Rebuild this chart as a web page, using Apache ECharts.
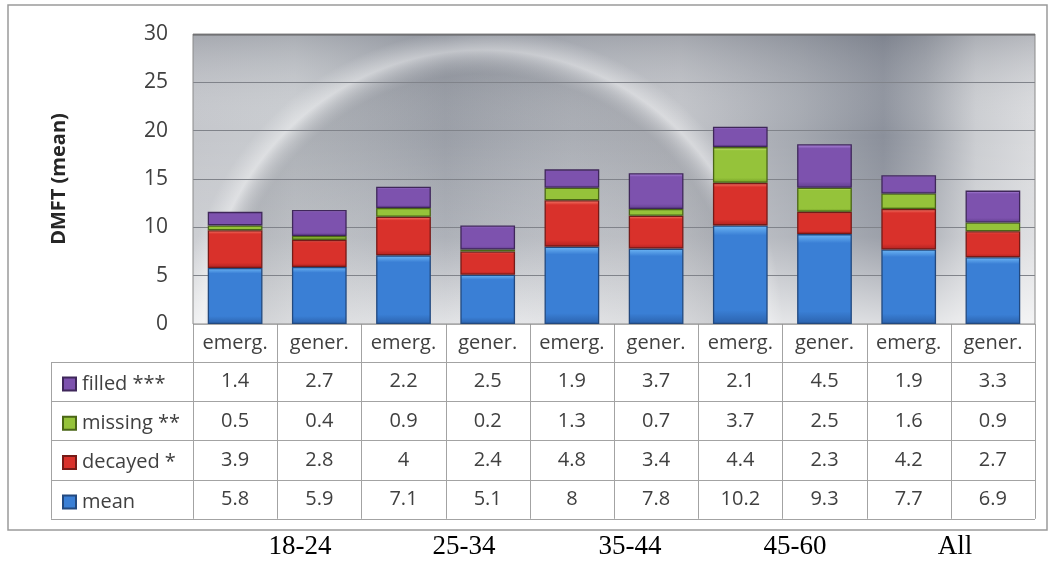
<!DOCTYPE html>
<html>
<head>
<meta charset="utf-8">
<title>DMFT by age group</title>
<script src="https://cdn.jsdelivr.net/npm/echarts@6/dist/echarts.min.js"></script>
<style>
  html, body { margin: 0; padding: 0; background: #ffffff; }
  #chart { width: 1049px; height: 565px; }
</style>
</head>
<body>
<div id="chart"></div>
<script>
// Age groups, each split into emergency and general patients
const ageGroups = ['18-24', '25-34', '35-44', '45-60', 'All'];
const columns = ['emerg.', 'gener.', 'emerg.', 'gener.', 'emerg.', 'gener.', 'emerg.', 'gener.', 'emerg.', 'gener.'];

// DMFT components (mean number of teeth)
const mean    = [5.8, 5.9, 7.1, 5.1, 8,   7.8, 10.2, 9.3, 7.7, 6.9];
const decayed = [3.9, 2.8, 4,   2.4, 4.8, 3.4, 4.4,  2.3, 4.2, 2.7];
const missing = [0.5, 0.4, 0.9, 0.2, 1.3, 0.7, 3.7,  2.5, 1.6, 0.9];
const filled  = [1.4, 2.7, 2.2, 2.5, 1.9, 3.7, 2.1,  4.5, 1.9, 3.3];

const seriesNames = ['mean', 'decayed *', 'missing **', 'filled ***'];
const yTicks = { min: 0, max: 30, interval: 5 };

const FONT = '"Open Sans", "Noto Sans", sans-serif';
const TEXT = '#404040';
const GRID_LINE = '#a3a3a3';

// unique keys for the category axis (labels are drawn in the table)
const colKeys = columns.map((c, i) => ageGroups[Math.floor(i / 2)] + ' ' + c);

function bevel(light, main, dark) {
  return {
    type: 'linear', x: 0, y: 0, x2: 0, y2: 1,
    colorStops: [
      { offset: 0, color: light },
      { offset: 0.10, color: main },
      { offset: 0.86, color: main },
      { offset: 1, color: dark }
    ]
  };
}

const palette = {
  'mean':       { fill: bevel('#6fb8f6', '#3a7fd5', '#2b62ad'), border: '#22497f' },
  'decayed *':  { fill: bevel('#f6806f', '#d9312b', '#b02222'), border: '#761a17' },
  'missing **': { fill: bevel('#d3f07e', '#95c33a', '#729d25'), border: '#4a6616' },
  'filled ***': { fill: bevel('#b690e3', '#7d52ae', '#613d8e'), border: '#3f275a' }
};

const values = { 'mean': mean, 'decayed *': decayed, 'missing **': missing, 'filled ***': filled };

const chart = echarts.init(document.getElementById('chart'), null, { renderer: 'canvas' });

chart.setOption({
  animation: false,
  textStyle: { fontFamily: FONT },
  grid: { left: 193, right: 14, top: 34, bottom: 241, containLabel: false },
  legend: {
    data: ['filled ***', 'missing **', 'decayed *', 'mean'],
    orient: 'vertical',
    left: 57,
    top: 369,
    itemWidth: 13,
    itemHeight: 13,
    itemGap: 19.3,
    icon: 'rect',
    selectedMode: false,
    textStyle: { fontFamily: FONT, fontSize: 20, color: TEXT, lineHeight: 20, padding: [0, 0, 0, 1] }
  },
  xAxis: {
    type: 'category',
    data: colKeys,
    axisLine: { show: false },
    axisTick: { show: false },
    axisLabel: { show: false },
    splitLine: { show: false }
  },
  yAxis: {
    type: 'value',
    min: yTicks.min,
    max: yTicks.max,
    interval: yTicks.interval,
    axisLine: { show: false },
    axisTick: { show: false },
    axisLabel: { fontFamily: FONT, fontSize: 21, color: TEXT, margin: 25 },
    splitLine: { lineStyle: { color: '#80838a', width: 1 } },
    name: 'DMFT (mean)',
    nameLocation: 'middle',
    nameGap: 124,
    nameTextStyle: { fontFamily: FONT, fontSize: 20, fontWeight: 'bold', color: '#262626' }
  },
  series: seriesNames.map(name => ({
    name: name,
    type: 'bar',
    stack: 'dmft',
    barWidth: '65%',
    data: values[name],
    itemStyle: {
      color: palette[name].fill,
      borderColor: palette[name].border,
      borderWidth: 1.3
    },
    emphasis: { disabled: true }
  }))
});

// Plot background, frame and the data table under the bars
function buildDecorations() {
  const cx = colKeys.map(k => chart.convertToPixel({ xAxisIndex: 0 }, k));
  const band = cx[1] - cx[0];
  const left = cx[0] - band / 2;
  const right = cx[cx.length - 1] + band / 2;
  const yTop = chart.convertToPixel({ yAxisIndex: 0 }, yTicks.max);
  const yBase = chart.convertToPixel({ yAxisIndex: 0 }, yTicks.min);
  const plotW = right - left, plotH = yBase - yTop;

  const headerH = 38;
  const rowH = 39.2;
  const legendLeft = 51;
  const rows = [filled, missing, decayed, mean];
  const tableBottom = yBase + headerH + rowH * rows.length;

  const els = [];

  // outer frame
  els.push({
    type: 'rect', z: -30,
    shape: { x: 8, y: 5, width: 1039, height: 525 },
    style: { fill: '#ffffff', stroke: '#9b9b9b', lineWidth: 1.5 }
  });

  const plotShape = { x: left, y: yTop, width: plotW, height: plotH };
  // base horizontal shading
  els.push({
    type: 'rect', z: -12, shape: plotShape,
    style: {
      fill: {
        type: 'linear', x: 0, y: 0, x2: 1, y2: 0,
        colorStops: [
          { offset: 0, color: '#c4c6cb' },
          { offset: 0.12, color: '#c9ccd0' },
          { offset: 0.3, color: '#a7abb3' },
          { offset: 0.45, color: '#bcbfc5' },
          { offset: 0.58, color: '#c1c3c8' },
          { offset: 0.72, color: '#a4a8b0' },
          { offset: 0.82, color: '#8b909b' },
          { offset: 0.87, color: '#a2a6ae' },
          { offset: 0.93, color: '#cbcdd1' },
          { offset: 1, color: '#dadbde' }
        ]
      }
    }
  });
  // vertical shading: darker top, bright toward the base line
  els.push({
    type: 'rect', z: -11, shape: plotShape,
    style: {
      fill: {
        type: 'linear', x: 0, y: 0, x2: 0, y2: 1,
        colorStops: [
          { offset: 0, color: 'rgba(95,100,112,0.30)' },
          { offset: 0.35, color: 'rgba(255,255,255,0)' },
          { offset: 0.7, color: 'rgba(255,255,255,0.15)' },
          { offset: 1, color: 'rgba(255,255,255,0.70)' }
        ]
      }
    }
  });
  // light sweeping arc
  els.push({
    type: 'rect', z: -10, shape: plotShape,
    style: {
      fill: {
        type: 'radial', x: left + 290, y: yBase + 5, r: 300, global: true,
        colorStops: [
          { offset: 0, color: 'rgba(80,85,96,0)' },
          { offset: 0.55, color: 'rgba(80,85,96,0.10)' },
          { offset: 0.85, color: 'rgba(80,85,96,0.22)' },
          { offset: 0.93, color: 'rgba(255,255,255,0.38)' },
          { offset: 0.97, color: 'rgba(255,255,255,0.15)' },
          { offset: 1, color: 'rgba(255,255,255,0)' }
        ]
      }
    }
  });
  // plot border
  els.push({
    type: 'rect', z: 1, shape: plotShape, silent: true,
    style: { fill: null, stroke: '#8a8a8a', lineWidth: 1 }
  });
  els.push({
    type: 'line', z: 1, shape: { x1: left, y1: yTop + 1, x2: right, y2: yTop + 1 },
    style: { stroke: 'rgba(90,90,90,0.45)', lineWidth: 2 }
  });

  // table grid
  const lineStyle = { stroke: GRID_LINE, lineWidth: 1 };
  const hLines = [yBase + headerH];
  for (let r = 1; r <= rows.length; r++) hLines.push(yBase + headerH + rowH * r);
  hLines.forEach(y => {
    els.push({ type: 'line', shape: { x1: legendLeft, y1: Math.round(y) + 0.5, x2: right, y2: Math.round(y) + 0.5 }, style: lineStyle });
  });
  els.push({ type: 'line', shape: { x1: left, y1: Math.round(yBase) + 0.5, x2: right, y2: Math.round(yBase) + 0.5 }, style: { stroke: '#c8c8c8', lineWidth: 1 } });
  els.push({ type: 'line', shape: { x1: legendLeft + 0.5, y1: yBase + headerH, x2: legendLeft + 0.5, y2: tableBottom }, style: lineStyle });
  for (let i = 0; i <= cx.length; i++) {
    const x = Math.round(left + band * i) + 0.5;
    els.push({ type: 'line', shape: { x1: x, y1: yBase, x2: x, y2: tableBottom }, style: lineStyle });
  }

  const txt = (text, x, y, size, color, family) => ({
    type: 'text', z: 5,
    style: {
      text: text, x: x, y: y,
      align: 'center', verticalAlign: 'middle',
      textAlign: 'center', textVerticalAlign: 'middle',
      fontFamily: family || FONT, fontSize: size, fill: color
    }
  });

  // header row
  columns.forEach((c, i) => els.push(txt(c, cx[i], yBase + headerH / 2, 20, TEXT)));
  // value rows
  rows.forEach((arr, r) => {
    const yc = yBase + headerH + rowH * r + rowH / 2;
    arr.forEach((v, i) => els.push(txt(String(v), cx[i], yc, 20, TEXT)));
  });

  // age-group captions under the frame
  const groupLabelX = [300, 464, 630, 795, 955];
  ageGroups.forEach((g, i) => els.push(txt(g, groupLabelX[i], 547, 27, '#000000', '"Liberation Serif", "Times New Roman", serif')));

  chart.setOption({ graphic: { elements: els } });
}

buildDecorations();
</script>
</body>
</html>
